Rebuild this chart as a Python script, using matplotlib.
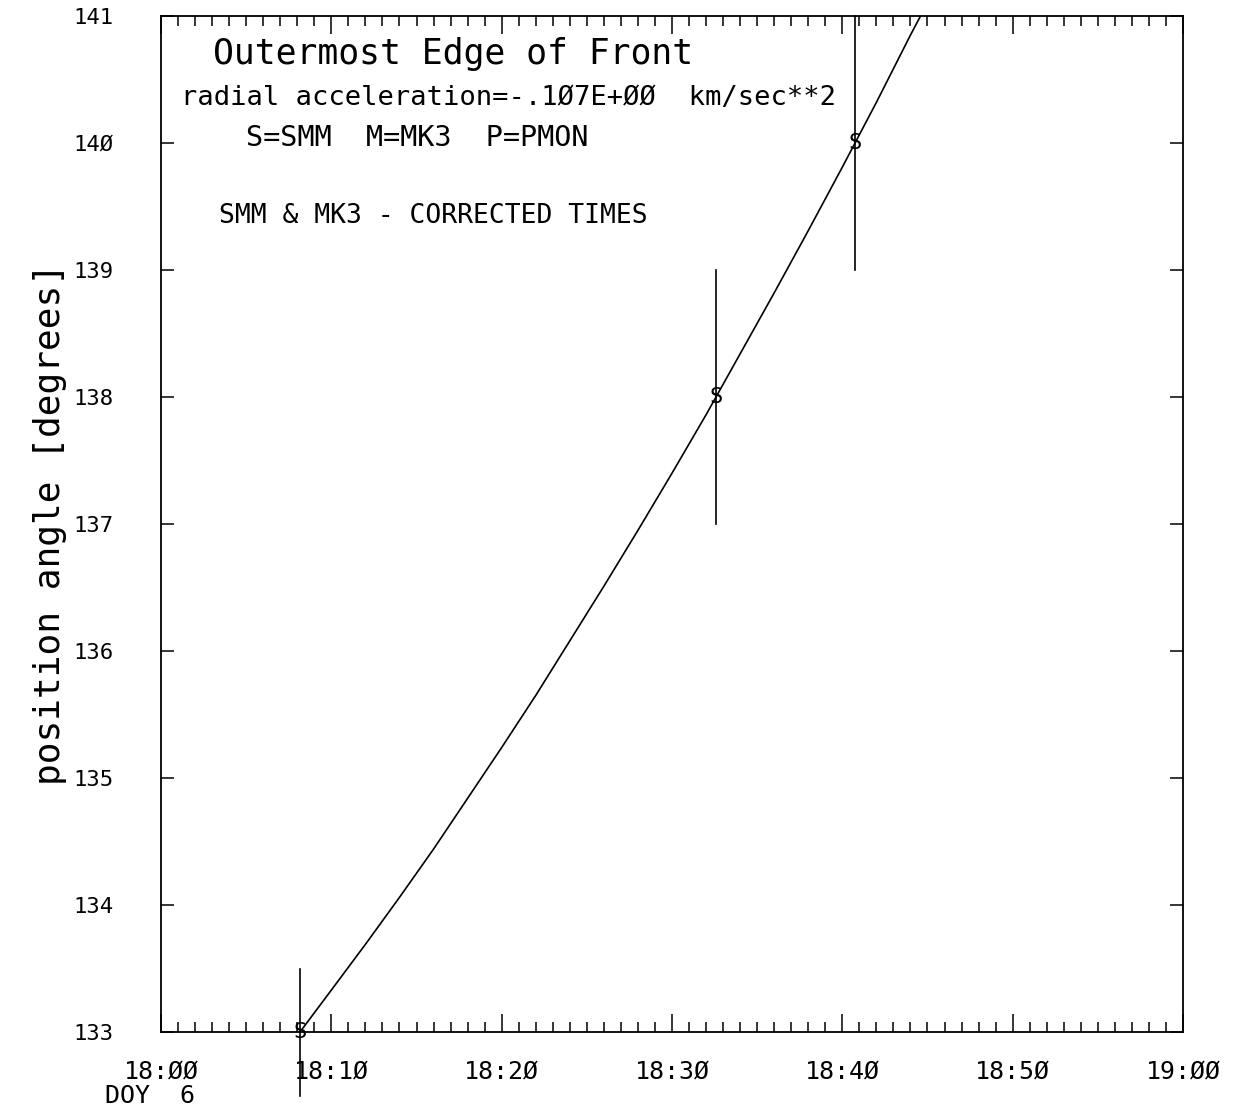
import matplotlib
matplotlib.use("Agg")
import matplotlib.pyplot as plt
from matplotlib.ticker import FixedLocator, MultipleLocator

# ---- data (minutes after 18:00 UT, DOY 6) ----
obs_time = [8.16, 32.58, 40.74]          # SMM observations
obs_pa = [133.0, 138.0, 140.0]           # position angle [deg]
obs_err = [0.5, 1.0, 1.0]
obs_label = ["S", "S", "S"]

fit_time = [8.16, 10, 12, 14, 16, 18, 20, 22, 24, 26, 28, 30, 32, 34, 36,
            38, 40, 42, 44, 44.59]
fit_pa = [133.0, 133.33, 133.69, 134.06, 134.44, 134.84, 135.24, 135.65,
          136.08, 136.51, 136.95, 137.40, 137.86, 138.34, 138.82, 139.31,
          139.81, 140.32, 140.85, 141.0]

xtick_pos = [0, 10, 20, 30, 40, 50, 60]
xtick_labels = ["18:ØØ", "18:1Ø", "18:2Ø", "18:3Ø", "18:4Ø", "18:5Ø", "19:ØØ"]
ytick_pos = [133, 134, 135, 136, 137, 138, 139, 140, 141]
ytick_labels = ["133", "134", "135", "136", "137", "138", "139", "14Ø", "141"]

MONO = "DejaVu Sans Mono"

fig = plt.figure(figsize=(12.38, 11.16), dpi=100)
ax = fig.add_axes([161 / 1238, 84 / 1116, 1022 / 1238, 1016 / 1116])

ax.set_xlim(0, 60)
ax.set_ylim(133, 141)

# fitted curve
ax.plot(fit_time, fit_pa, color="black", lw=1.2, solid_joinstyle="round")

# error bars and symbols
for t, p, e, s in zip(obs_time, obs_pa, obs_err, obs_label):
    ax.plot([t, t], [p - e, p + e], color="black", lw=1.2, clip_on=False)
    ax.text(t, p, s, fontsize=16, family=MONO, ha="center", va="center",
            clip_on=False)

# ticks
ax.xaxis.set_major_locator(FixedLocator(xtick_pos))
ax.set_xticklabels(xtick_labels, family=MONO, fontsize=18)
ax.xaxis.set_minor_locator(MultipleLocator(1))
ax.yaxis.set_major_locator(FixedLocator(ytick_pos))
ax.set_yticklabels(ytick_labels, family=MONO, fontsize=16)
ax.tick_params(axis="x", which="major", direction="in", top=True, bottom=True,
               length=13, width=1.1, pad=20)
ax.tick_params(axis="x", which="minor", direction="in", top=True, bottom=True,
               length=7.5, width=1.1)
ax.tick_params(axis="y", which="major", direction="in", left=True, right=True,
               length=9.5, width=1.1, pad=34)
for sp in ax.spines.values():
    sp.set_linewidth(1.3)

ax.set_ylabel("position angle [degrees]", family=MONO, fontsize=26,
              labelpad=5)

# annotations
ax.text(-3.3, 132.44, "DOY  6", family=MONO, fontsize=18, ha="left",
        va="baseline", clip_on=False)
ax.text(3.05, 140.62, "Outermost Edge of Front", family=MONO, fontsize=25,
        ha="left", va="baseline")
ax.text(1.17, 140.30, "radial acceleration=-.1Ø7E+ØØ  km/sec**2",
        family=MONO, fontsize=19.5, ha="left", va="baseline")
ax.text(4.99, 139.98, "S=SMM  M=MK3  P=PMON", family=MONO, fontsize=20.5,
        ha="left", va="baseline")
ax.text(3.4, 139.37, "SMM & MK3 - CORRECTED TIMES", family=MONO, fontsize=19,
        ha="left", va="baseline")

fig.savefig("out.png", dpi=100, facecolor="white")
